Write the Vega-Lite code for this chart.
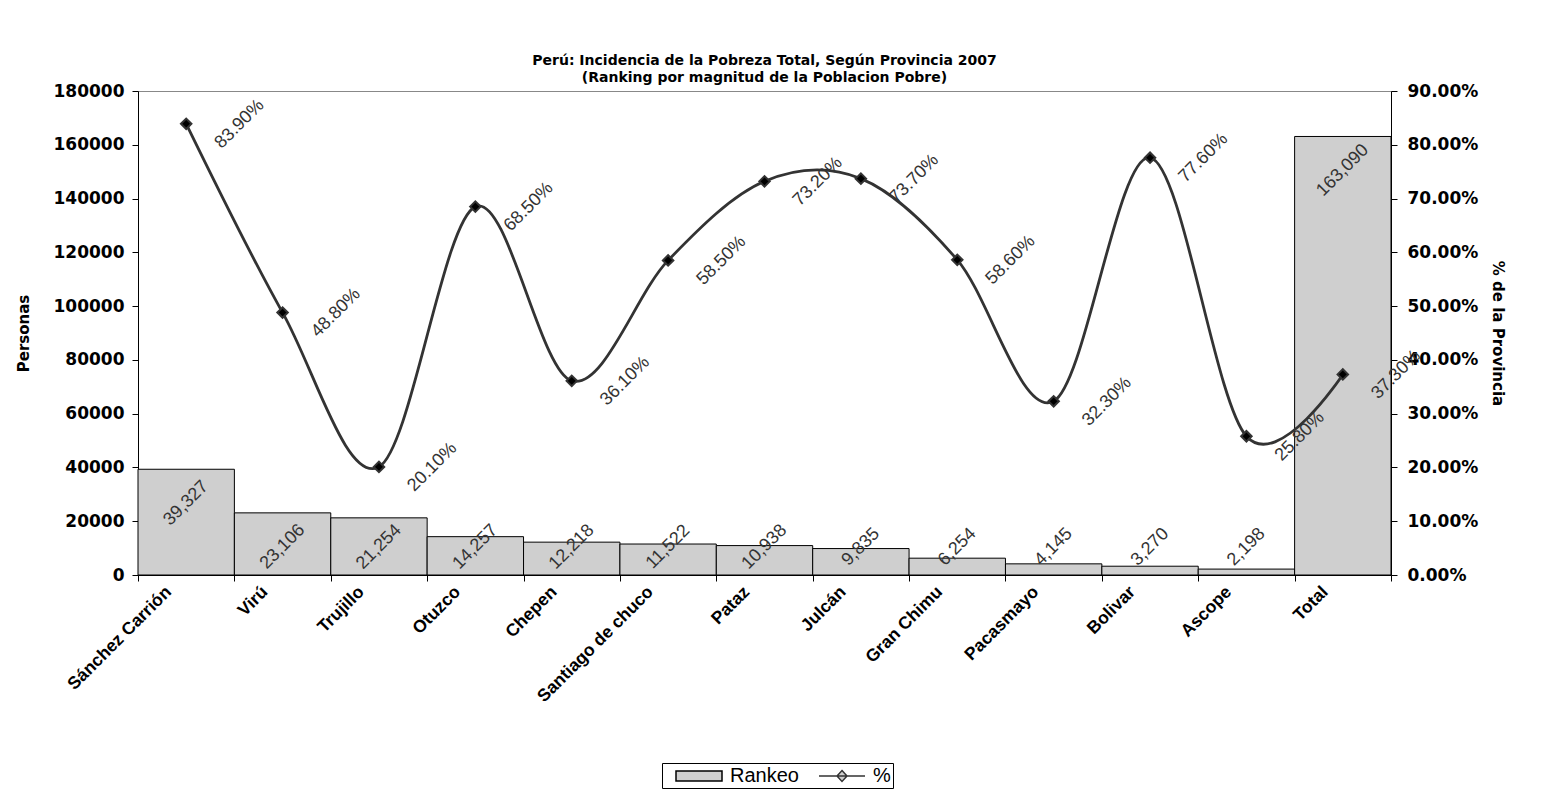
{
  "$schema": "https://vega.github.io/schema/vega-lite/v6.json",
  "width": 1253,
  "height": 484,
  "autosize": {"type": "pad"},
  "padding": {"left": 16, "top": 54, "right": 30, "bottom": 5},
  "background": "white",
  "title": {
    "text": ["Perú: Incidencia de la Pobreza Total, Según Provincia 2007", "(Ranking por magnitud de la Poblacion Pobre)"],
    "font": "DejaVu Sans",
    "fontSize": 14,
    "fontWeight": "bold",
    "color": "black",
    "anchor": "middle",
    "lineHeight": 17,
    "offset": -3
  },
  "config": {
    "view": {"stroke": "#888888", "strokeWidth": 1}
  },
  "data": {
    "values": [
      {"Provincia": "Sánchez Carrión", "Personas": 39327, "Pct": 0.839},
      {"Provincia": "Virú", "Personas": 23106, "Pct": 0.488},
      {"Provincia": "Trujillo", "Personas": 21254, "Pct": 0.201},
      {"Provincia": "Otuzco", "Personas": 14257, "Pct": 0.685},
      {"Provincia": "Chepen", "Personas": 12218, "Pct": 0.361},
      {"Provincia": "Santiago de chuco", "Personas": 11522, "Pct": 0.585},
      {"Provincia": "Pataz", "Personas": 10938, "Pct": 0.732},
      {"Provincia": "Julcán", "Personas": 9835, "Pct": 0.737},
      {"Provincia": "Gran Chimu", "Personas": 6254, "Pct": 0.586},
      {"Provincia": "Pacasmayo", "Personas": 4145, "Pct": 0.323},
      {"Provincia": "Bolivar", "Personas": 3270, "Pct": 0.776},
      {"Provincia": "Ascope", "Personas": 2198, "Pct": 0.258},
      {"Provincia": "Total", "Personas": 163090, "Pct": 0.373}
    ]
  },
  "encoding": {
    "x": {
      "field": "Provincia",
      "type": "nominal",
      "sort": null,
      "scale": {"paddingInner": 0, "paddingOuter": 0},
      "axis": {
        "title": null,
        "labelAngle": -45,
        "labelAlign": "right",
        "labelBaseline": "middle",
        "labelOffset": -18,
        "labelPadding": 8,
        "labelFont": "Liberation Sans",
        "labelFontWeight": "bold",
        "labelFontSize": 17.5,
        "labelColor": "black",
        "tickBand": "extent",
        "tickSize": 6,
        "tickColor": "black",
        "domainColor": "black",
        "grid": false
      }
    }
  },
  "layer": [
    {
      "encoding": {
        "y": {
          "field": "Personas",
          "type": "quantitative",
          "scale": {"domain": [0, 180000], "nice": false},
          "axis": {
            "orient": "left",
            "title": "Personas",
            "values": [0, 20000, 40000, 60000, 80000, 100000, 120000, 140000, 160000, 180000],
            "format": "d",
            "grid": false,
            "labelFont": "DejaVu Sans",
            "labelFontWeight": "bold",
            "labelFontSize": 17,
            "labelColor": "black",
            "labelPadding": 8,
            "tickSize": 6,
            "tickColor": "black",
            "domainColor": "black",
            "titleFont": "DejaVu Sans",
            "titleFontSize": 15,
            "titleFontWeight": "bold",
            "titleColor": "black",
            "titlePadding": 22
          }
        }
      },
      "layer": [
        {
          "mark": {"type": "bar", "fill": "#cfcfcf", "strokeWidth": 1},
          "encoding": {
            "stroke": {
              "datum": "Rankeo",
              "type": "nominal",
              "scale": {"domain": ["Rankeo", "%"], "range": ["#000000", "#333333"]},
              "legend": {
                "title": null,
                "orient": "none",
                "legendX": 524,
                "legendY": 672,
                "direction": "horizontal",
                "strokeColor": "black",
                "fillColor": "white",
                "padding": 2,
                "labelFont": "Liberation Sans",
                "labelFontSize": 20,
                "labelColor": "black",
                "symbolType": {"expr": "datum.value === 'Rankeo' ? 'M-2.3,-0.5H2.3V0.5H-2.3Z' : 'M-2.3,0H2.3M0,-0.55L0.5,0L0,0.55L-0.5,0Z'"},
                "symbolFillColor": {"expr": "datum.value === 'Rankeo' ? '#cfcfcf' : 'black'"},
                "symbolSize": 400,
                "symbolStrokeWidth": 1.5,
                "symbolOffset": 24,
                "labelOffset": 20,
                "columnPadding": 8
              }
            }
          }
        },
        {
          "mark": {
            "type": "text",
            "angle": -45,
            "align": "center",
            "baseline": "middle",
            "font": "Liberation Sans",
            "fontSize": 18,
            "color": "#333333",
            "dx": {"expr": "-0.707 * min(34, datum.Personas * height / 180000 - 28)"},
            "dy": {"expr": "0.707 * min(34, datum.Personas * height / 180000 - 28)"}
          },
          "encoding": {
            "text": {"field": "Personas", "type": "quantitative", "format": ","}
          }
        }
      ]
    },
    {
      "encoding": {
        "y": {
          "field": "Pct",
          "type": "quantitative",
          "scale": {"domain": [0, 0.9], "nice": false},
          "axis": {
            "orient": "right",
            "title": "% de la Provincia",
            "values": [0, 0.1, 0.2, 0.3, 0.4, 0.5, 0.6, 0.7, 0.8, 0.9],
            "format": ".2%",
            "grid": false,
            "labelFont": "DejaVu Sans",
            "labelFontWeight": "bold",
            "labelFontSize": 17,
            "labelColor": "black",
            "labelPadding": 10,
            "tickSize": 6,
            "tickColor": "black",
            "domainColor": "black",
            "titleFont": "DejaVu Sans",
            "titleFontSize": 15,
            "titleFontWeight": "bold",
            "titleColor": "black",
            "titlePadding": 12
          }
        }
      },
      "layer": [
        {
          "mark": {
            "type": "line",
            "interpolate": "cardinal",
            "strokeWidth": 2.8,
            "point": {"shape": "diamond", "size": 110, "filled": true, "fill": "black", "opacity": 1}
          },
          "encoding": {
            "stroke": {"datum": "%", "type": "nominal"}
          }
        },
        {
          "mark": {
            "type": "text",
            "angle": -45,
            "align": "left",
            "baseline": "alphabetic",
            "dx": 7,
            "dy": 43,
            "font": "Liberation Sans",
            "fontSize": 18,
            "color": "#333333"
          },
          "encoding": {
            "text": {"field": "Pct", "type": "quantitative", "format": ".2%"}
          }
        }
      ]
    }
  ],
  "resolve": {"scale": {"y": "independent"}}
}
